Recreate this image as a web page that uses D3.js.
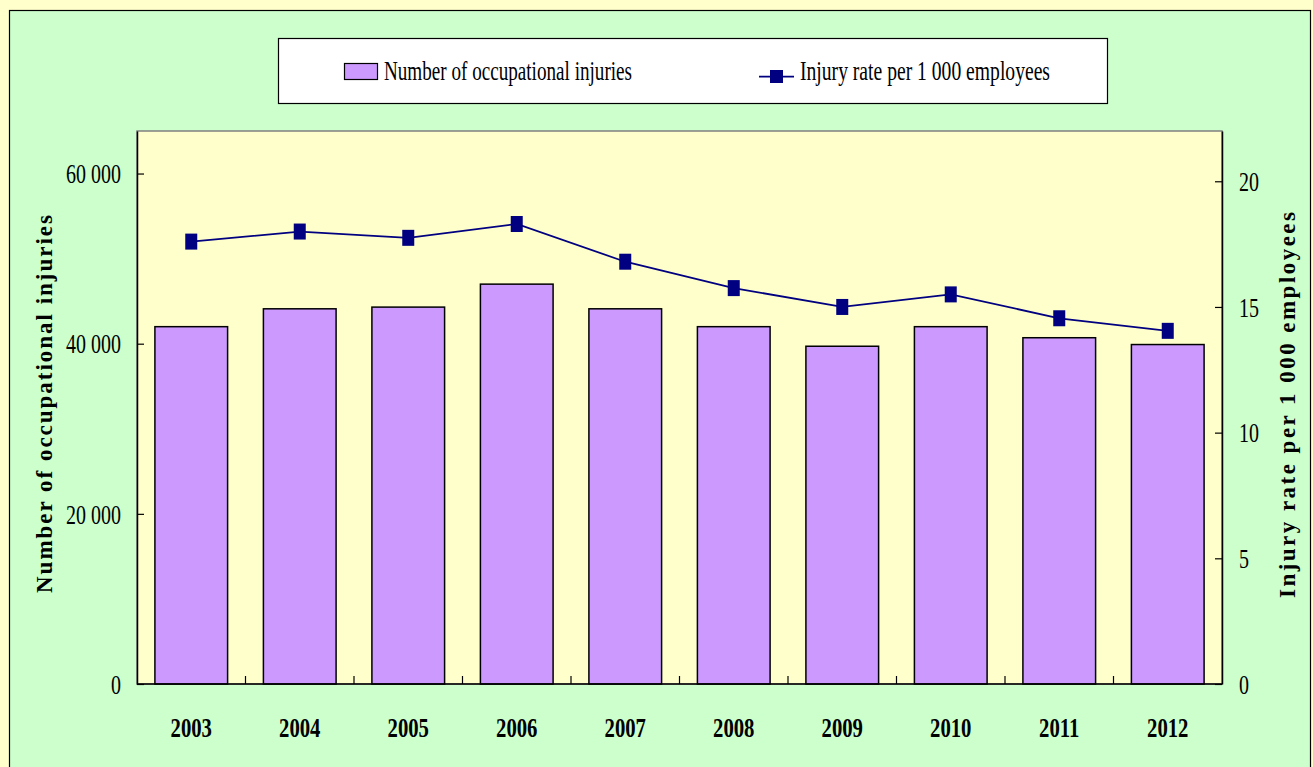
<!DOCTYPE html>
<html>
<head>
<meta charset="utf-8">
<script src="https://cdn.jsdelivr.net/npm/d3@7"></script>
<style>
  html, body { margin: 0; padding: 0; background: #FFFFCC; }
  svg { display: block; font-family: "Liberation Serif", "Times New Roman", serif; }
</style>
</head>
<body>
<script>
var years = ['2003', '2004', '2005', '2006', '2007', '2008', '2009', '2010', '2011', '2012'];
var injuries = [42000, 44100, 44300, 47000, 44100, 42000, 39700, 42000, 40700, 39900];
var rates = [17.6, 18.0, 17.75, 18.3, 16.8, 15.75, 15.0, 15.5, 14.55, 14.05];
var leftTicks = [0, 20000, 40000, 60000];
var rightTicks = [0, 5, 10, 15, 20];
var seriesNames = ['Number of occupational injuries', 'Injury rate per 1 000 employees'];

var W = 1313, H = 767,
    x0 = 137, x1 = 1222, y0 = 131, y1 = 684,
    squeeze = 0.74;

var svg = d3.select('body').append('svg')
    .attr('width', W)
    .attr('height', H);

// squeeze text horizontally like the original condensed serif
function condense(sel, k) {
    sel.each(function() {
        var w = this.getComputedTextLength();
        d3.select(this)
            .attr('textLength', w * k)
            .attr('lengthAdjust', 'spacingAndGlyphs');
    });
}

svg.append('rect')
    .attr('width', W).attr('height', H)
    .attr('fill', '#FFFFCC');

svg.append('rect')
    .attr('x', 9.5).attr('y', 10.5)
    .attr('width', 1301).attr('height', 800)
    .attr('fill', '#CCFFCC')
    .attr('stroke', '#000')
    .attr('stroke-width', 1.2);

// plot area
svg.append('rect')
    .attr('x', x0).attr('y', y0)
    .attr('width', x1 - x0).attr('height', y1 - y0)
    .attr('fill', '#FFFFCC')
    .attr('stroke', '#808080')
    .attr('stroke-width', 1.5);

var x = d3.scaleBand()
    .domain(years)
    .range([x0, x1])
    .paddingInner(0.33)
    .paddingOuter(0.165);

var yL = d3.scaleLinear().domain([0, 65000]).range([y1, y0]);
var yR = d3.scaleLinear().domain([0, 22]).range([y1, y0]);

var fmt = function(d) { return d3.format(',')(d).replace(/,/g, ' '); };

// bars
svg.append('g').selectAll('rect')
    .data(injuries)
    .join('rect')
    .attr('x', function(d, i) { return x(years[i]); })
    .attr('y', function(d) { return yL(d); })
    .attr('width', x.bandwidth())
    .attr('height', function(d) { return y1 - yL(d); })
    .attr('fill', '#CC99FF')
    .attr('stroke', '#000')
    .attr('stroke-width', 1.5);

// x ticks at category boundaries
svg.append('g').selectAll('line')
    .data(years.slice(1))
    .join('line')
    .attr('x1', function(d) { return x(d) - x.step() * x.paddingInner() / 2; })
    .attr('x2', function(d) { return x(d) - x.step() * x.paddingInner() / 2; })
    .attr('y1', y1).attr('y2', y1 - 8)
    .attr('stroke', '#000')
    .attr('stroke-width', 1.2);

// left axis
var gL = svg.append('g')
    .attr('transform', 'translate(' + x0 + ',0)')
    .call(d3.axisLeft(yL).tickValues(leftTicks).tickFormat(fmt)
        .tickSize(-7).tickSizeOuter(0).tickPadding(16));

// right axis
var gR = svg.append('g')
    .attr('transform', 'translate(' + x1 + ',0)')
    .call(d3.axisRight(yR).tickValues(rightTicks)
        .tickSize(-7).tickSizeOuter(0).tickPadding(17));

[gL, gR].forEach(function(g) {
    g.select('.domain').attr('stroke', '#000').attr('stroke-width', 1.5);
    g.selectAll('.tick line').attr('stroke', '#000').attr('stroke-width', 1.2);
    g.selectAll('.tick text')
        .attr('font-family', '"Liberation Serif", serif')
        .attr('font-size', 27)
        .attr('fill', '#000')
        .attr('dy', '0.34em')
        .call(condense, squeeze);
});

// bottom axis
var gB = svg.append('g')
    .attr('transform', 'translate(0,' + y1 + ')')
    .call(d3.axisBottom(x).tickSize(0).tickSizeOuter(0));

gB.select('.domain').attr('stroke', '#000').attr('stroke-width', 1.5)
    .attr('d', 'M' + x0 + ',0H' + x1);
gB.selectAll('.tick text')
    .attr('font-family', '"Liberation Serif", serif')
    .attr('font-size', 28)
    .attr('font-weight', 'bold')
    .attr('fill', '#000')
    .attr('y', 53)
    .attr('dy', 0)
    .call(condense, squeeze);

// rate line
var line = d3.line()
    .x(function(d, i) { return x(years[i]) + x.bandwidth() / 2; })
    .y(function(d) { return yR(d); });

svg.append('path')
    .datum(rates)
    .attr('d', line)
    .attr('fill', 'none')
    .attr('stroke', '#000080')
    .attr('stroke-width', 1.75);

svg.append('g').selectAll('rect')
    .data(rates)
    .join('rect')
    .attr('x', function(d, i) { return x(years[i]) + x.bandwidth() / 2 - 6; })
    .attr('y', function(d) { return yR(d) - 8; })
    .attr('width', 12)
    .attr('height', 16)
    .attr('fill', '#000080');

// axis titles
svg.append('text')
    .attr('transform', 'translate(52,404) rotate(-90)')
    .attr('text-anchor', 'middle')
    .attr('font-size', 23)
    .attr('font-weight', 'bold')
    .attr('textLength', 378)
    .attr('lengthAdjust', 'spacing')
    .text(seriesNames[0]);

svg.append('text')
    .attr('transform', 'translate(1295,405) rotate(-90)')
    .attr('text-anchor', 'middle')
    .attr('font-size', 23)
    .attr('font-weight', 'bold')
    .attr('textLength', 386)
    .attr('lengthAdjust', 'spacing')
    .text(seriesNames[1]);

// legend
var legend = svg.append('g');

legend.append('rect')
    .attr('x', 278.5).attr('y', 38.5)
    .attr('width', 829).attr('height', 65)
    .attr('fill', '#fff')
    .attr('stroke', '#000')
    .attr('stroke-width', 1.2);

legend.append('rect')
    .attr('x', 344.5).attr('y', 63.5)
    .attr('width', 33).attr('height', 16)
    .attr('fill', '#CC99FF')
    .attr('stroke', '#000')
    .attr('stroke-width', 1.2);

legend.append('text')
    .attr('x', 384).attr('y', 80)
    .attr('font-size', 28)
    .attr('textLength', 248)
    .attr('lengthAdjust', 'spacingAndGlyphs')
    .text(seriesNames[0]);

legend.append('path')
    .attr('d', 'M' + [759, 76.5] + ' L' + [794, 76.5])
    .attr('stroke', '#000080')
    .attr('stroke-width', 1.75);

legend.append('rect')
    .attr('x', 770).attr('y', 70)
    .attr('width', 13).attr('height', 13)
    .attr('fill', '#000080');

legend.append('text')
    .attr('x', 800).attr('y', 80)
    .attr('font-size', 28)
    .attr('textLength', 250)
    .attr('lengthAdjust', 'spacingAndGlyphs')
    .text(seriesNames[1]);
</script>
</body>
</html>
